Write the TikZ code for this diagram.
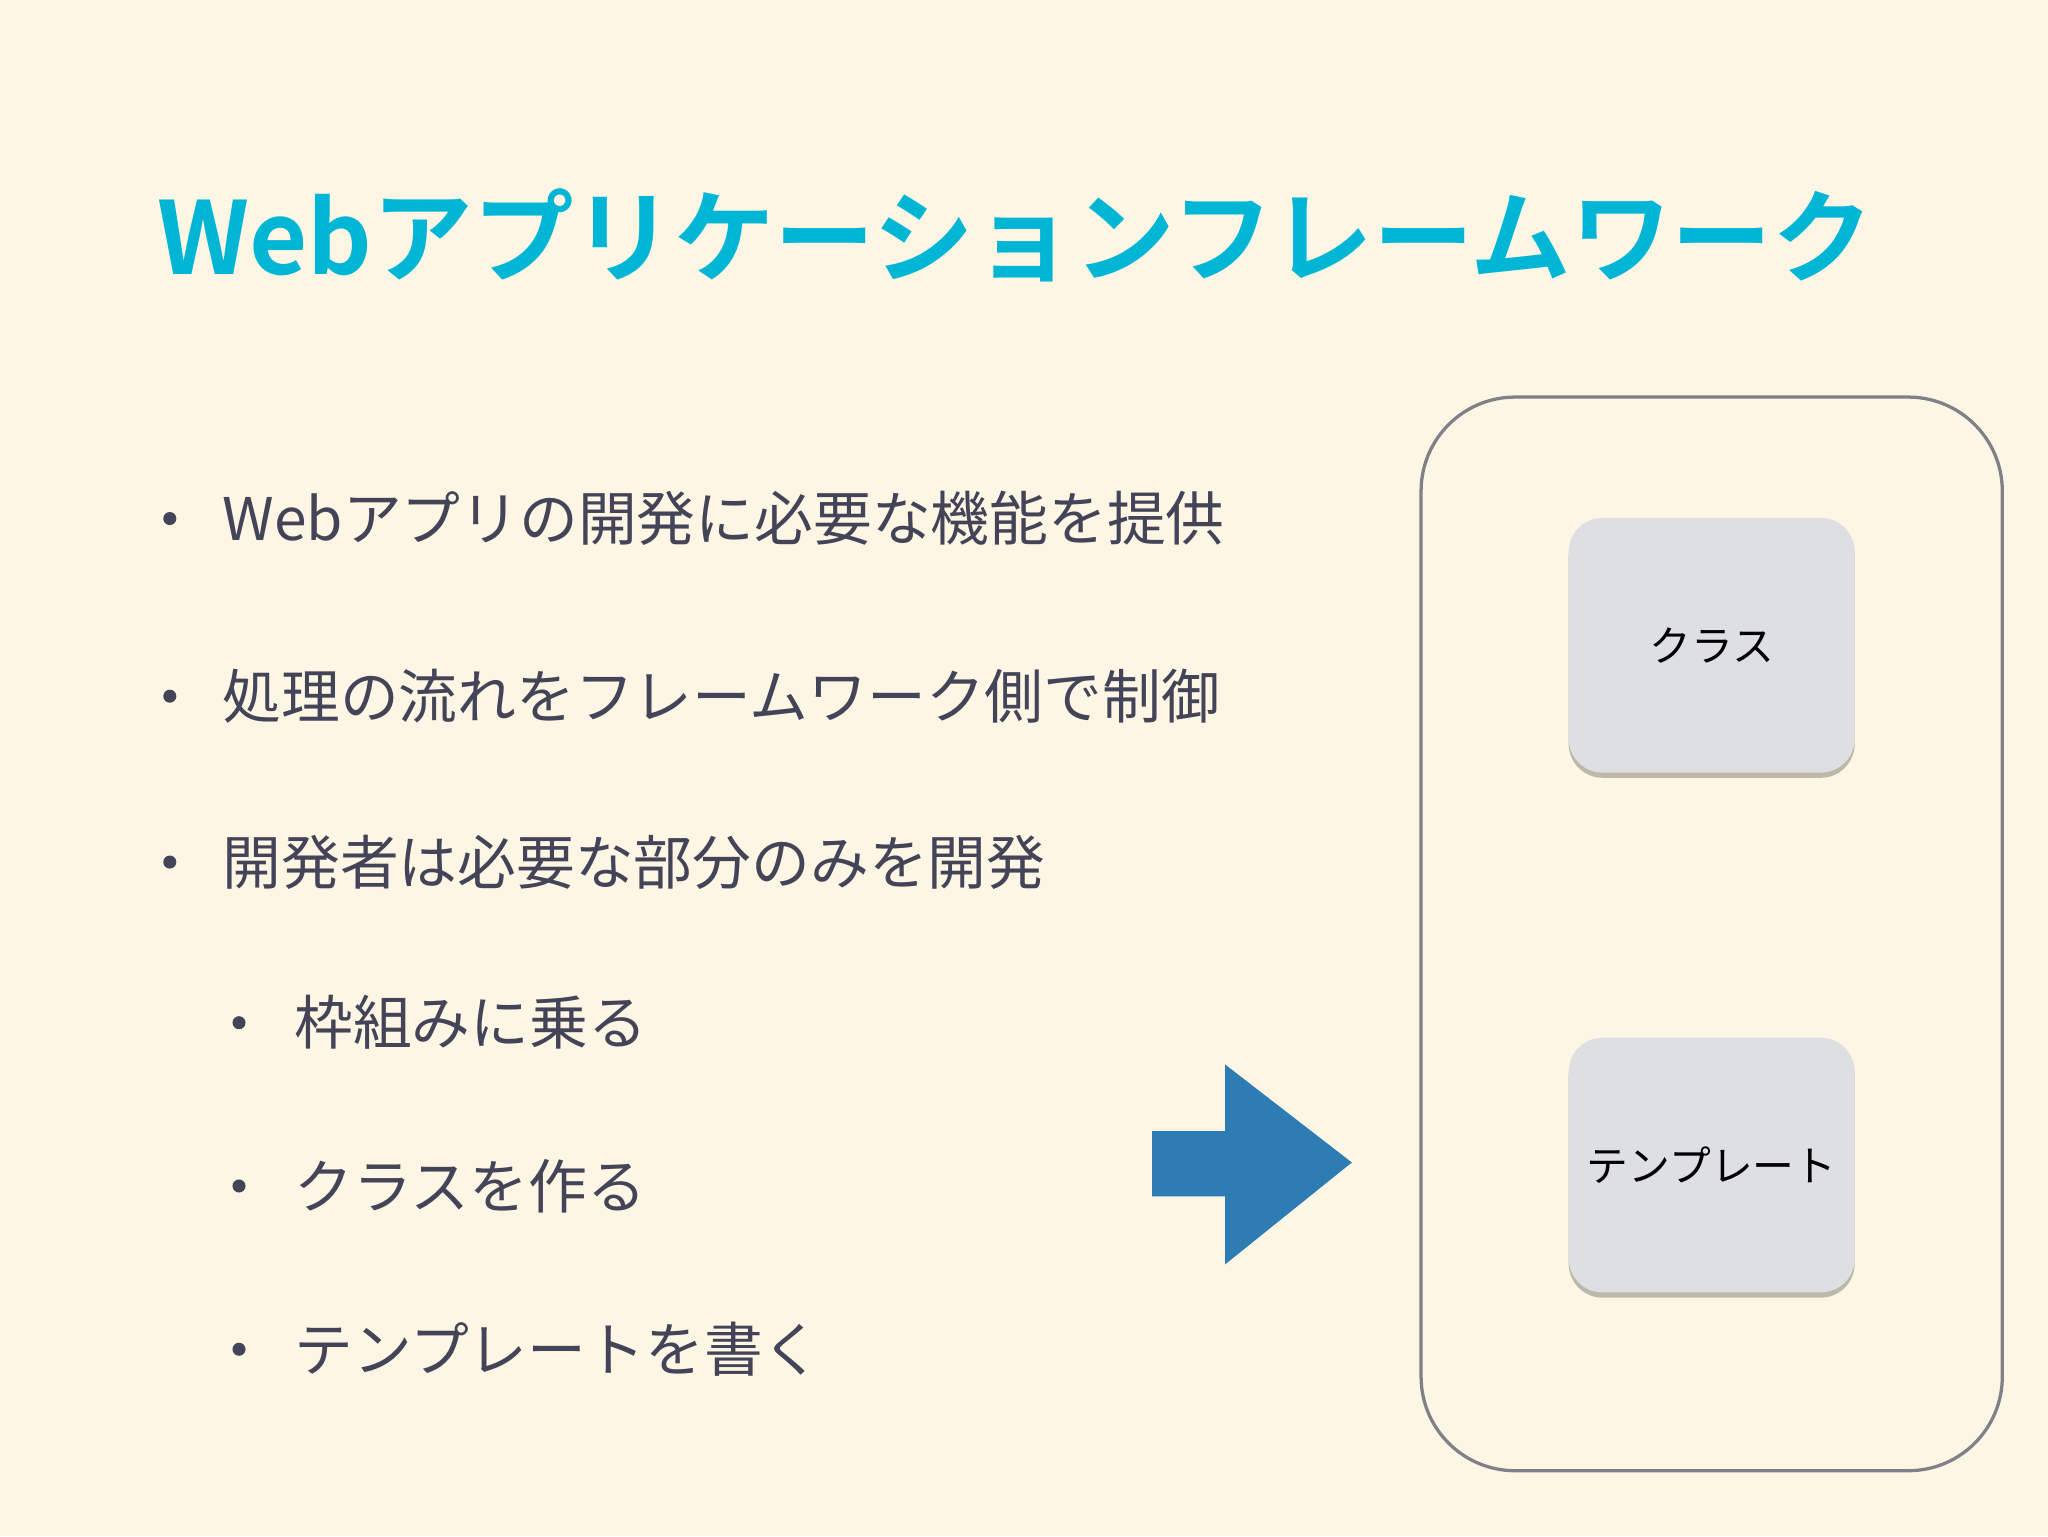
\documentclass[tikz,border=0pt]{standalone}
\usepackage{fontspec}
\setmainfont{Noto Sans CJK JP}
\newfontfamily\titlefont{Noto Sans CJK JP Bold}
\usetikzlibrary{shadows}
\definecolor{bgcream}{RGB}{254,246,228}
\definecolor{titlecyan}{RGB}{0,182,212}
\definecolor{textgray}{RGB}{68,68,88}
\definecolor{arrowblue}{RGB}{46,124,180}
\definecolor{boxgray}{RGB}{222,223,226}
\definecolor{framegray}{RGB}{128,128,136}
\tikzset{
  every picture/.style={line width=0.75pt},
  bullettext/.style={anchor=west,inner sep=0pt,text=textgray,font=\fontsize{45}{50}\selectfont},
  bulletdot/.style={circle,fill=textgray,inner sep=0pt,minimum size=10pt},
  partbox/.style={draw=none,fill=boxgray,rounded corners=26pt,minimum width=219pt,minimum height=195pt,
    drop shadow={shadow xshift=0pt,shadow yshift=-4pt,fill=black,opacity=0.25},font=\fontsize{32}{36}\selectfont}
}
\begin{document}
\begin{tikzpicture}[x=1pt,y=1pt,yscale=-1]
  \fill[bgcream] (0,0) rectangle (1568,1176);
  \useasboundingbox (0,0) rectangle (1568,1176);
  % title
  \node[anchor=west,inner sep=0pt,text=titlecyan,font=\titlefont\fontsize{77}{80}\selectfont] (title) at (120,180) {Webアプリケーションフレームワーク};
  % bullets
  \foreach \y/\txt [count=\i] in {397/Webアプリの開発に必要な機能を提供, 533/処理の流れをフレームワーク側で制御, 660/開発者は必要な部分のみを開発} {
    \node[bulletdot] (dot\i) at (130,\y) {};
    \node[bullettext] (item\i) at (170,\y) {\txt};
  }
  \foreach \y/\txt [count=\i] in {783/枠組みに乗る, 908/クラスを作る, 1033/テンプレートを書く} {
    \node[bulletdot] (subdot\i) at (183,\y) {};
    \node[bullettext] (subitem\i) at (225,\y) {\txt};
  }
  % arrow
  \fill[arrowblue] (882,866) -- (938,866) -- (938,815) -- (1035,890) -- (938,968) -- (938,916) -- (882,916) -- cycle;
  % framework frame
  \draw[framegray,line width=2.5pt,rounded corners=72pt] (1088,304) rectangle (1533,1126);
  \node[partbox] (klass) at (1310.5,494) {クラス};
  \node[partbox] (tmpl) at (1310.5,892) {テンプレート};
\end{tikzpicture}
\end{document}
